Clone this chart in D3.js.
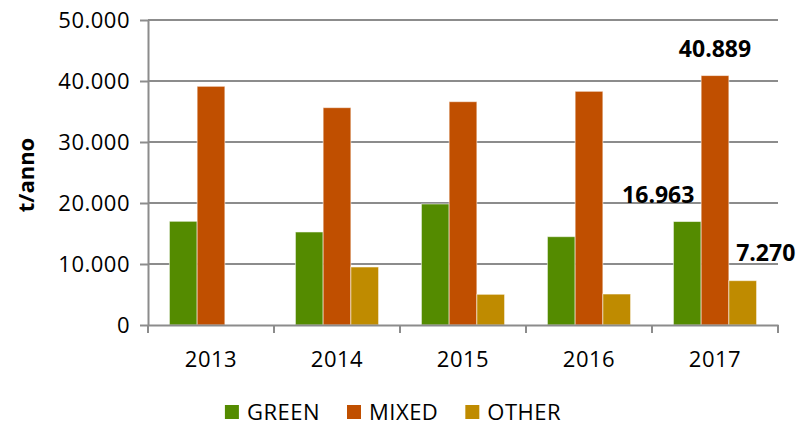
<!DOCTYPE html>
<html>
<head>
<meta charset="utf-8">
<script src="https://cdn.jsdelivr.net/npm/d3@7"></script>
<style>
  html, body { margin: 0; padding: 0; background: #fff; }
  svg { display: block; font-family: "Open Sans", sans-serif; }
</style>
</head>
<body>
<svg id="chart" width="800" height="427"></svg>
<script>
const years = ["2013", "2014", "2015", "2016", "2017"];
const seriesNames = ["GREEN", "MIXED", "OTHER"];
const greenValues = [17000, 15250, 19840, 14480, 16963];
const mixedValues = [39130, 35630, 36610, 38310, 40889];
const otherValues = [null, 9510, 5030, 5080, 7270];
const seriesColors = ["#548B00", "#C04F00", "#BF8B00"];
const yTicks = [0, 10000, 20000, 30000, 40000, 50000];
const yTickLabels = ["0", "10.000", "20.000", "30.000", "40.000", "50.000"];
const yTitle = "t/anno";
// labelled values (year, series, text, dx, dy)
const dataLabels = [
  { year: "2017", series: "MIXED", text: "40.889", dx: 0, dy: -19 },
  { year: "2017", series: "GREEN", text: "16.963", dx: -29, dy: -19 },
  { year: "2017", series: "OTHER", text: "7.270", dx: 23, dy: -20 }
];

const seriesValues = { GREEN: greenValues, MIXED: mixedValues, OTHER: otherValues };

const svg = d3.select("#chart");
const mLeft = 148, mRight = 778, mTop = 20, mBottom = 325;

const x0 = d3.scaleBand().domain(years).range([mLeft, mRight]).padding(0);
const groupW = x0.bandwidth() * 0.66;
const x1 = d3.scaleBand().domain(seriesNames)
  .range([(x0.bandwidth() - groupW) / 2, (x0.bandwidth() + groupW) / 2]).padding(0);
const y = d3.scaleLinear().domain([0, 50000]).range([mBottom, mTop]);
const color = d3.scaleOrdinal().domain(seriesNames).range(seriesColors);

const gridColor = "#8c8c8c";

// gridlines
svg.append("g").selectAll("line").data(yTicks.filter(t => t > 0)).join("line")
  .attr("x1", mLeft).attr("x2", mRight)
  .attr("y1", d => y(d)).attr("y2", d => y(d))
  .attr("stroke", gridColor).attr("stroke-width", 2);

// y axis
const yAxis = svg.append("g").attr("transform", `translate(${mLeft},0)`)
  .call(d3.axisLeft(y).tickValues(yTicks).tickSize(8).tickSizeOuter(0)
    .tickFormat((d, i) => yTickLabels[i]));
yAxis.select(".domain").attr("stroke", gridColor).attr("stroke-width", 2);
yAxis.selectAll(".tick line").attr("stroke", gridColor).attr("stroke-width", 2);
yAxis.selectAll(".tick text").attr("x", -18).attr("dy", "0.36em")
  .attr("font-size", 22).attr("letter-spacing", 0.5).attr("fill", "#000")
  .attr("font-family", "Open Sans, sans-serif");

// bars
const rows = years.map((yr, i) => ({ year: yr, vals: seriesNames.map(s => ({ s, v: seriesValues[s][i] })) }));
svg.append("g").selectAll("g").data(rows).join("g")
  .attr("transform", d => `translate(${x0(d.year)},0)`)
  .selectAll("rect").data(d => d.vals.filter(e => e.v != null)).join("rect")
  .attr("x", d => x1(d.s)).attr("width", x1.bandwidth())
  .attr("y", d => y(d.v)).attr("height", d => y(0) - y(d.v))
  .attr("fill", d => color(d.s))
  .attr("stroke", "rgba(255,255,255,0.55)").attr("stroke-width", 1);

// x axis
const xAxis = svg.append("g").attr("transform", `translate(0,${mBottom})`)
  .call(d3.axisBottom(x0).tickSize(0).tickSizeOuter(0));
xAxis.select(".domain").attr("stroke", gridColor).attr("stroke-width", 2);
xAxis.selectAll(".tick text").attr("y", 42).attr("dy", 0)
  .attr("font-size", 22).attr("letter-spacing", 0.5).attr("fill", "#000")
  .attr("font-family", "Open Sans, sans-serif");
// category boundary ticks
const bounds = years.map(yr => x0(yr)).concat([mRight]);
xAxis.append("g").selectAll("line").data(bounds).join("line")
  .attr("x1", d => d).attr("x2", d => d).attr("y1", 0).attr("y2", 8)
  .attr("stroke", gridColor).attr("stroke-width", 2);

// data labels
svg.append("g").selectAll("text").data(dataLabels).join("text")
  .attr("x", d => x0(d.year) + x1(d.series) + x1.bandwidth() / 2 + d.dx)
  .attr("y", d => y(seriesValues[d.series][years.indexOf(d.year)]) + d.dy)
  .attr("text-anchor", "middle").attr("font-size", 23).attr("font-weight", "bold")
  .attr("fill", "#000").text(d => d.text);

// y title
svg.append("text").attr("transform", "translate(34,175) rotate(-90)")
  .attr("text-anchor", "middle").attr("font-size", 22).attr("font-weight", "bold")
  .attr("fill", "#000").text(yTitle);

// legend
const legend = svg.append("g");
const items = legend.selectAll("g").data(seriesNames).join("g");
items.append("rect").attr("width", 14).attr("height", 14).attr("y", -15)
  .attr("fill", d => color(d));
items.append("text").attr("x", 22).attr("y", 0).attr("font-size", 22)
  .attr("letter-spacing", 0.5).attr("fill", "#000").text(d => d);
let cx = 0;
items.each(function () {
  const g = d3.select(this);
  g.attr("transform", `translate(${cx},0)`);
  cx += 22 + g.select("text").node().getComputedTextLength() + 27;
});
const totalW = cx - 27;
legend.attr("transform", `translate(${393 - totalW / 2},420)`);
</script>
</body>
</html>
